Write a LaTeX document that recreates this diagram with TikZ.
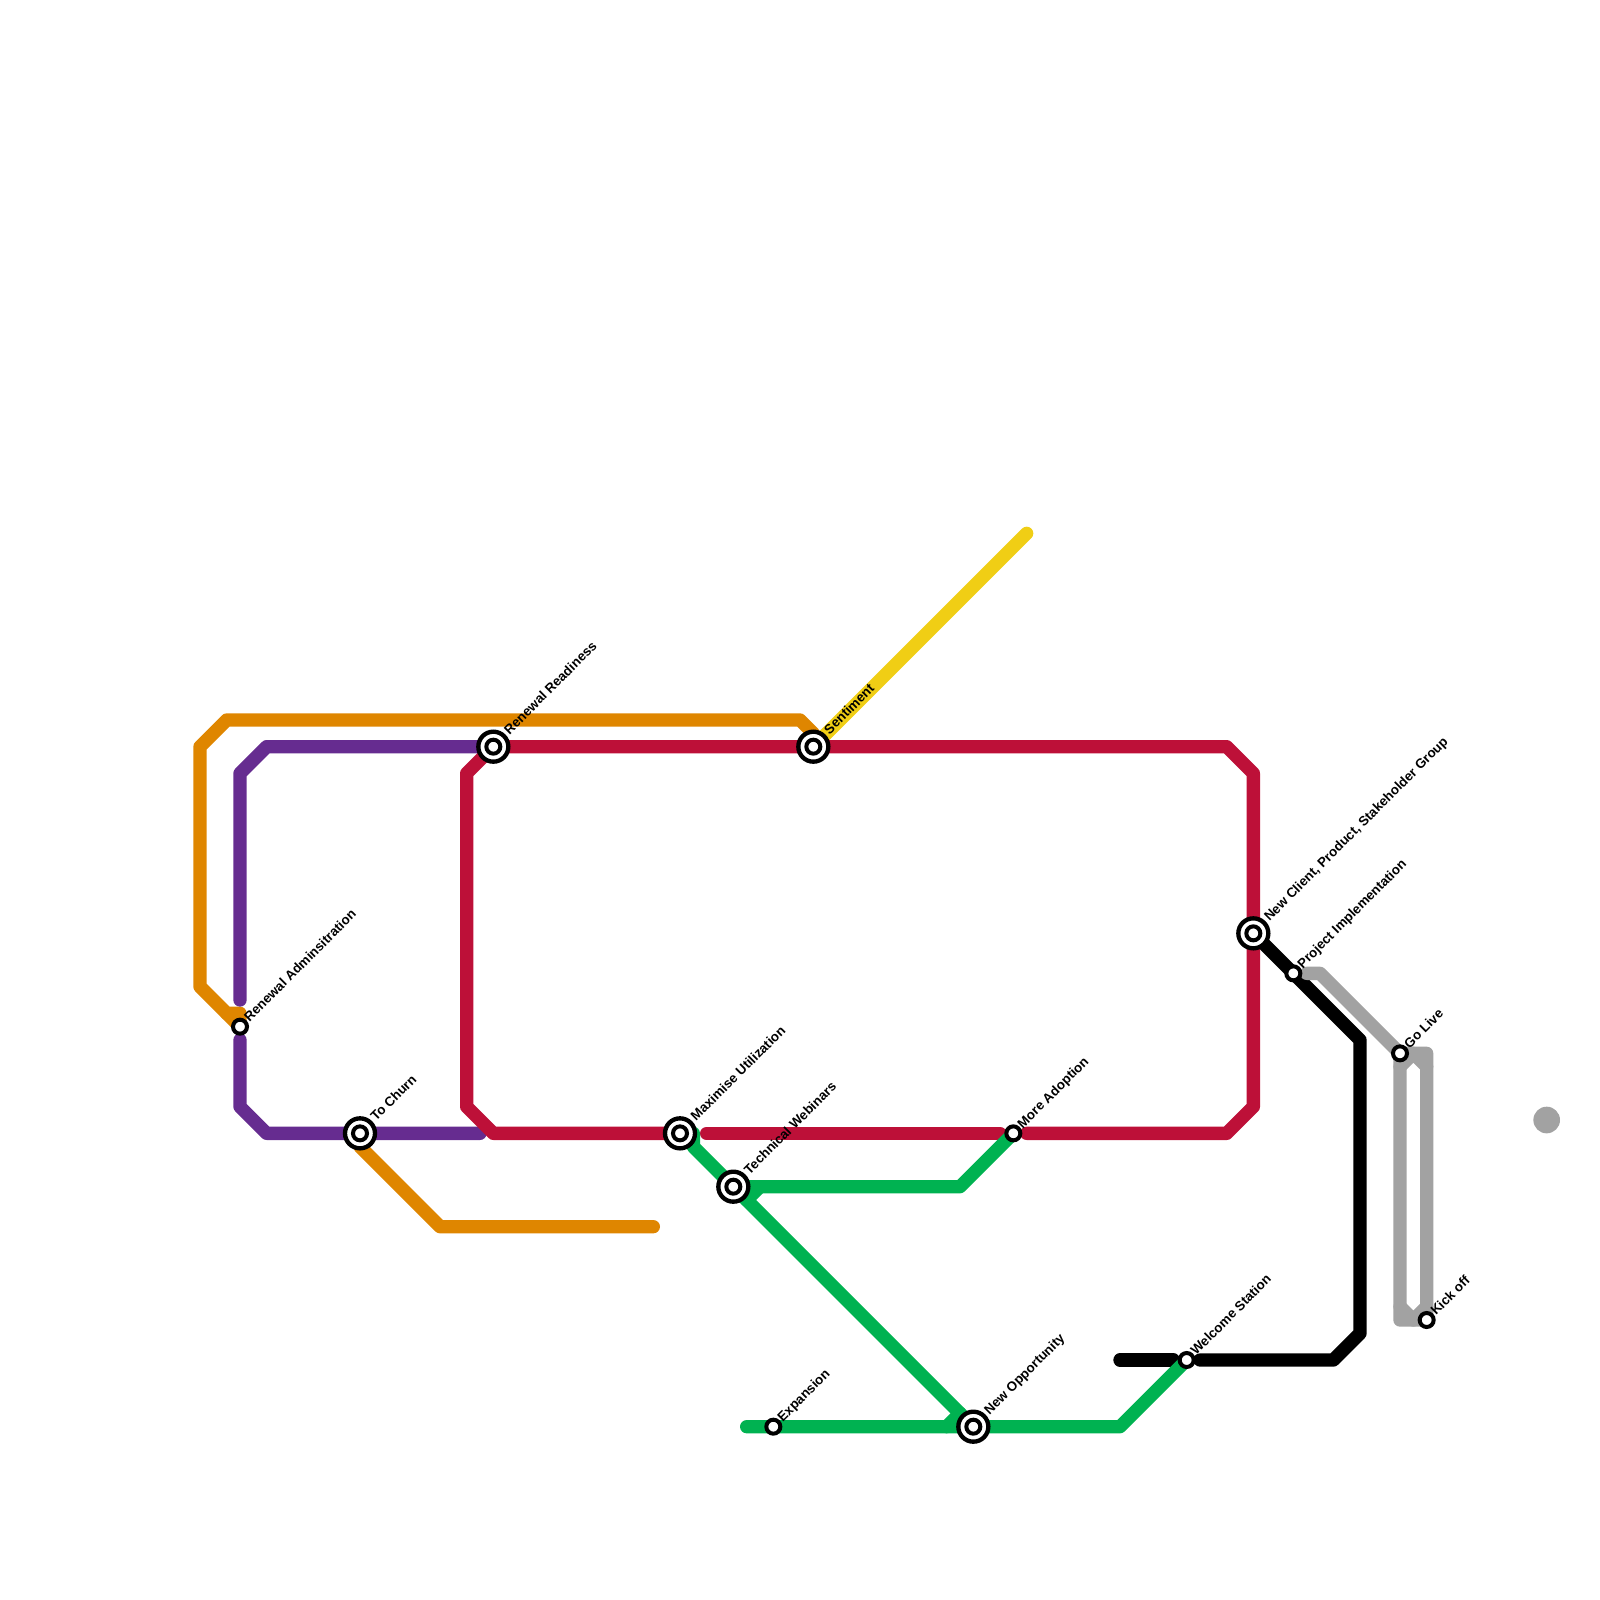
\documentclass[tikz,border=0pt]{standalone}
\usepackage{fontspec}
\setmainfont{Liberation Sans}
\usepackage{xcolor}
\usetikzlibrary{backgrounds}
\definecolor{lineorange}{HTML}{DF8600}
\definecolor{linepurple}{HTML}{662C90}
\definecolor{linered}{HTML}{BD1038}
\definecolor{linegreen}{HTML}{00B251}
\definecolor{lineyellow}{HTML}{F0CE15}
\definecolor{linegray}{HTML}{A2A2A2}

\begin{document}
\begin{tikzpicture}[
  x=4mm, y=-4mm,
  metro/.style={line width=4mm, line cap=round, line join=round},
  hub/.style={circle, draw=black, fill=white, line width=1.3mm, minimum size=9mm, inner sep=0pt},
  stn/.style={circle, draw=black, fill=white, line width=1.2mm, minimum size=4.2mm, inner sep=0pt},
  lab/.style={font=\bfseries\fontsize{11.38}{13}\selectfont, rotate=45, anchor=base west, inner sep=0pt}
]
  \useasboundingbox (0,0) rectangle (120,120);

  % stations with a double ring
  \node[hub] (readiness) at (37,56) {};
  \node[stn] (readinessIn) at (37,56) {};
  \node[hub] (sentiment) at (61,56) {};
  \node[stn] (sentimentIn) at (61,56) {};
  \node[hub] (churn) at (27,85) {};
  \node[stn] (churnIn) at (27,85) {};
  \node[hub] (maximise) at (51,85) {};
  \node[stn] (maximiseIn) at (51,85) {};
  \node[hub] (webinars) at (55,89) {};
  \node[stn] (webinarsIn) at (55,89) {};
  \node[hub] (opportunity) at (73,107) {};
  \node[stn] (opportunityIn) at (73,107) {};
  \node[hub] (newclient) at (94,70) {};
  \node[stn] (newclientIn) at (94,70) {};

  % plain stations
  \node[stn] (renewaladmin) at (18,77) {};
  \node[stn] (adoption) at (76,85) {};
  \node[stn] (expansion) at (58,107) {};
  \node[stn] (welcome) at (89,102) {};
  \node[stn] (projectimpl) at (97,73) {};
  \node[stn] (golive) at (105,79) {};
  \node[stn] (kickoff) at (107,99) {};

  % labels
  \node[lab] (readinessLab) at (38.2,55.15) {Renewal Readiness};
  \node[lab] (sentimentLab) at (62.2,55.15) {Sentiment};
  \node[lab] (churnLab) at (28.2,84.15) {To Churn};
  \node[lab] (maximiseLab) at (52.2,84.15) {Maximise Utilization};
  \node[lab] (webinarsLab) at (56.2,88.15) {Technical Webinars};
  \node[lab] (opportunityLab) at (74.2,106.15) {New Opportunity};
  \node[lab] (newclientLab) at (95.2,69.15) {New Client, Product, Stakeholder Group};
  \node[lab] (renewaladminLab) at (18.7,76.7) {Renewal Adminsitration};
  \node[lab] (adoptionLab) at (76.7,84.7) {More Adoption};
  \node[lab] (expansionLab) at (58.7,106.7) {Expansion};
  \node[lab] (welcomeLab) at (89.7,101.7) {Welcome Station};
  \node[lab] (projectimplLab) at (97.7,72.7) {Project Implementation};
  \node[lab] (goliveLab) at (105.7,78.7) {Go Live};
  \node[lab] (kickoffLab) at (107.7,98.7) {Kick off};

  % free line ends
  \coordinate (yellowEnd) at (77,40);
  \coordinate (orangeEnd) at (49,92);
  \coordinate (purpleTop) at (18,75);
  \coordinate (purpleLow) at (18,78);
  \coordinate (purpleEnd) at (36,85);
  \coordinate (redStart) at (53,85);
  \coordinate (redEnd) at (75,85);
  \coordinate (redBack) at (77,85);
  \coordinate (greenEnd) at (56,107);
  \coordinate (blackStart) at (84,102);
  \coordinate (blackStop) at (88,102);
  \coordinate (blackBack) at (90,102);
  \coordinate (grayStart) at (98,73);

  \begin{scope}[on background layer]
    % yellow and orange
    \draw[metro, lineyellow] (sentiment.center) -- (yellowEnd);
    \draw[metro, lineorange] (renewaladmin.center) -- (18,76) -- (17,76) -- (15,74) -- (15,56) -- (17,54)
      -- (60,54) -- (61,55) -- (sentiment.center);
    \draw[metro, lineorange] (renewaladmin.center) -- (17,76);
    \draw[metro, lineorange] (churn.center) -- (27,86) -- (33,92) -- (orangeEnd);
    % purple
    \draw[metro, linepurple] (purpleTop) -- (18,58) -- (20,56) -- (readiness.center);
    \draw[metro, linepurple] (purpleLow) -- (18,83) -- (20,85) -- (churn.center) -- (purpleEnd);
    % black
    \draw[metro, black] (blackStart) -- (blackStop);
    \draw[metro, black] (blackBack) -- (100,102) -- (102,100) -- (102,78) -- (projectimpl.center) -- (newclient.center);
    % gray
    \draw[metro, linegray] (grayStart) -- (99,73) -- (golive.center) -- (107,79) -- (kickoff.center)
      -- (105,99) -- (golive.center);
    \draw[metro, linegray] (105,80) -- (106,79) -- (107,80);
    \draw[metro, linegray] (105,98) -- (106,99) -- (107,98);
    \fill[linegray] (116,84) circle[radius=4mm];
    % red
    \draw[metro, linered] (readiness.center) -- (35,58) -- (35,83) -- (37,85) -- (maximise.center);
    \draw[metro, linered] (readiness.center) -- (sentiment.center) -- (92,56) -- (94,58) -- (newclient.center)
      -- (94,83) -- (92,85) -- (redBack);
    \draw[metro, linered] (redStart) -- (redEnd);
    % green
    \draw[metro, linegreen] (maximise.center) -- (52,85) -- (52,86) -- (webinars.center) -- (opportunity.center);
    \draw[metro, linegreen] (webinars.center) -- (72,89) -- (adoption.center);
    \draw[metro, linegreen] (56,90) -- (57,89);
    \draw[metro, linegreen] (greenEnd) -- (expansion.center) -- (opportunity.center) -- (84,107) -- (welcome.center);
    \draw[metro, linegreen] (72,106) -- (71,107);
  \end{scope}
\end{tikzpicture}
\end{document}
